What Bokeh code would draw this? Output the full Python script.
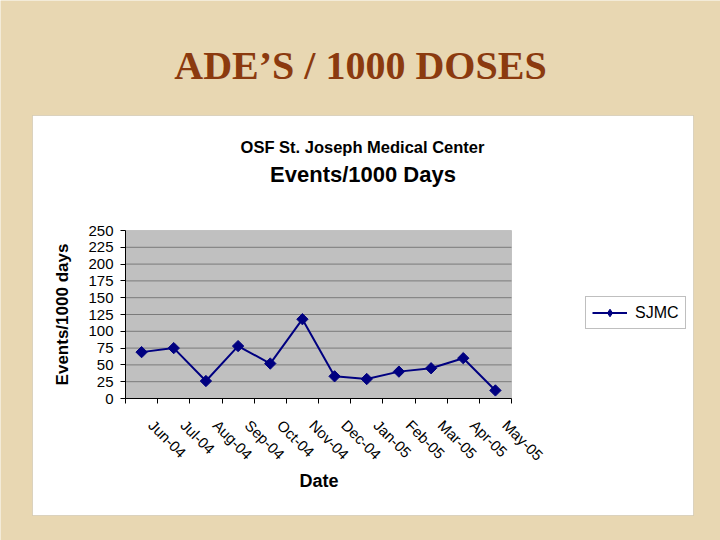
import math
from bokeh.plotting import figure
from bokeh.models import (FixedTicker, Label, BoxAnnotation, Legend, LegendItem, Range1d)
from bokeh.embed import file_html
from bokeh.resources import INLINE

# ---- data ----
months = ["Jun-04", "Jul-04", "Aug-04", "Sep-04", "Oct-04", "Nov-04",
          "Dec-04", "Jan-05", "Feb-05", "Mar-05", "Apr-05", "May-05"]
events = [69, 75, 26, 78, 52, 118, 33, 29, 40, 45, 60, 12]
y_ticks = [0, 25, 50, 75, 100, 125, 150, 175, 200, 225, 250]
slide_title = "ADE\u2019S / 1000 DOSES"
chart_title = "OSF St. Joseph Medical Center"
chart_subtitle = "Events/1000 Days"
series_name = "SJMC"
x_label = "Date"
y_label = "Events/1000 days"

SANS = "Liberation Sans"
PARCH = "#e8d7b2"
NAVY = "#000080"
EDGE = "#a39880"
W, H = 720, 540
PL, PR, PT, PB = 125, 511, 230, 398   # plot area on the page (px)

n = len(months)
y0, y1 = y_ticks[0], y_ticks[-1]
xs = [i + 0.5 for i in range(n)]
label_shift = 0.3  # nudges rotated month labels right of the bin centre

# frame = whole canvas; ranges chosen so the plot area lands at PL..PR / PT..PB
xpp = n / (PR - PL)
ypp = (y1 - y0) / (PB - PT)
x_range = Range1d(0 - PL * xpp, n + (W - PR) * xpp)
y_range = Range1d(y0 - (H - PB) * ypp, y1 + PT * ypp)


def sx(px):
    return px


def sy(py):
    return H - py


p = figure(width=W, height=H, output_backend="svg", toolbar_location=None,
           x_range=x_range, y_range=y_range,
           min_border=0, min_border_left=0, min_border_right=0,
           min_border_top=0, min_border_bottom=0,
           background_fill_color=PARCH, border_fill_color=PARCH,
           outline_line_color=None)
p.xgrid.visible = False
p.ygrid.visible = False

# white chart box
p.add_layout(BoxAnnotation(left=sx(32), right=sx(693), top=sy(115), bottom=sy(515),
                           left_units="screen", right_units="screen",
                           top_units="screen", bottom_units="screen",
                           fill_color="white", fill_alpha=1.0,
                           line_color=EDGE, line_width=1, level="image"))
# gray plot area
p.add_layout(BoxAnnotation(left=0, right=n, bottom=y0, top=y1,
                           fill_color="#c0c0c0", fill_alpha=1.0,
                           line_color="#808080", line_width=1, level="underlay"))

# horizontal gridlines at the tick values
p.segment(x0=0, x1=n, y0=y_ticks[1:-1], y1=y_ticks[1:-1],
          line_color="#7a7a7a", line_width=1)

line_r = p.line(xs, events, line_color=NAVY, line_width=2)
pts_r = p.scatter(xs, events, marker="square", angle=math.pi / 4, size=8,
                  fill_color=NAVY, line_color=NAVY)
key_r = p.scatter(x=[float("nan")], y=[float("nan")], marker="diamond", size=10,
                  fill_color=NAVY, line_color=NAVY)

# y axis pinned to the plot-area edge
ya = p.yaxis[0]
ya.fixed_location = 0
ya.bounds = (y0, y1)
ya.ticker = FixedTicker(ticks=y_ticks)
ya.axis_line_color = "black"
ya.major_tick_line_color = "black"
ya.major_tick_out = 5
ya.major_tick_in = 0
ya.minor_tick_line_color = None
ya.major_label_text_font = SANS
ya.major_label_text_font_size = "15px"
ya.major_label_text_color = "black"
ya.major_label_standoff = 7

# x axis pinned to the plot-area bottom
label_pos = [x + label_shift for x in xs]
xa = p.xaxis[0]
xa.fixed_location = y0
xa.bounds = (0, n)
xa.ticker = FixedTicker(ticks=label_pos, minor_ticks=list(range(n + 1)))
xa.major_label_overrides = {x: m for x, m in zip(label_pos, months)}
xa.axis_line_color = "black"
xa.major_tick_line_color = None
xa.major_tick_out = 0
xa.major_tick_in = 0
xa.minor_tick_line_color = "black"
xa.minor_tick_out = 5
xa.minor_tick_in = 0
xa.major_label_orientation = -math.pi / 4
xa.major_label_text_font = SANS
xa.major_label_text_font_size = "15px"
xa.major_label_text_color = "black"
xa.major_label_standoff = 19


def text_label(text, px, py, size, font=SANS, color="black", angle=0.0):
    return Label(x=sx(px), y=sy(py), x_units="screen", y_units="screen",
                 text=text, angle=angle, text_font=font, text_font_style="bold",
                 text_font_size=size, text_color=color,
                 text_align="center", text_baseline="middle")


# axis titles
p.add_layout(text_label(y_label, 62, 314, "17px", angle=math.pi / 2))
p.add_layout(text_label(x_label, 318.5, 480.5, "18px"))

# titles
p.add_layout(text_label(slide_title, 360, 65, "40px",
                        font="Liberation Serif", color="#8b3a0f"))
p.add_layout(text_label(chart_title, 362, 146.3, "16.5px"))
p.add_layout(text_label(chart_subtitle, 362.5, 173.8, "22px"))

legend = Legend(items=[LegendItem(label=series_name, renderers=[line_r, key_r])],
                location=(sx(585), sy(329)),
                label_text_font=SANS, label_text_font_size="16px",
                label_text_color="black",
                glyph_width=35, glyph_height=19, label_standoff=8,
                padding=6, margin=0, spacing=0,
                background_fill_color="white", background_fill_alpha=1.0,
                border_line_color="#808080", border_line_width=1)
p.add_layout(legend, "center")

open("out.html", "w").write(file_html(p, INLINE))
